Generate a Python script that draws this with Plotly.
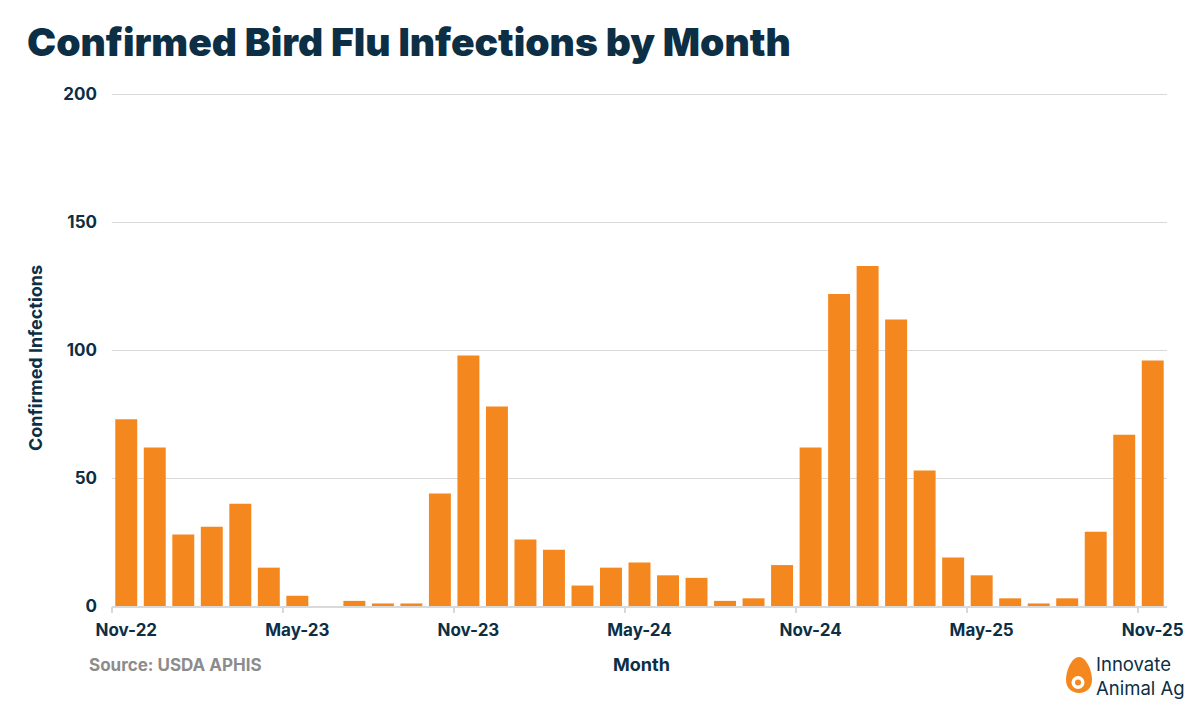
import plotly.graph_objects as go

months = ["Nov-22","Dec-22","Jan-23","Feb-23","Mar-23","Apr-23","May-23","Jun-23","Jul-23","Aug-23","Sep-23","Oct-23",
          "Nov-23","Dec-23","Jan-24","Feb-24","Mar-24","Apr-24","May-24","Jun-24","Jul-24","Aug-24","Sep-24","Oct-24",
          "Nov-24","Dec-24","Jan-25","Feb-25","Mar-25","Apr-25","May-25","Jun-25","Jul-25","Aug-25","Sep-25","Oct-25",
          "Nov-25"]
infections = [73, 62, 28, 31, 40, 15, 4, 0, 2, 1, 1, 44,
              98, 78, 26, 22, 8, 15, 17, 12, 11, 2, 3, 16,
              62, 122, 133, 112, 53, 19, 12, 3, 1, 3, 29, 67,
              96]
tick_labels = ["Nov-22", "May-23", "Nov-23", "May-24", "Nov-24", "May-25", "Nov-25"]
y_ticks = [0, 50, 100, 150, 200]

NAVY = "#0c2f45"
ORANGE = "#f5871f"
GRID = "#d9d9d9"
FONT = "Inter"

idx = list(range(len(months)))
label_pos = [months.index(m) for m in tick_labels]
boundary_pos = [p - 0.5 for p in label_pos]

fig = go.Figure()
fig.add_trace(go.Bar(x=idx, y=infections, marker=dict(color=ORANGE, line=dict(width=0)),
                     hovertext=months, hoverinfo="text+y"))
fig.add_trace(go.Scatter(x=[idx[0]], y=[0], xaxis="x2", mode="markers",
                         marker=dict(opacity=0), showlegend=False, hoverinfo="skip"))

# page body has an 8px margin; work in screenshot pixels and shift
OFF = 8
W, H = 1200, 707
SL, SR, ST, SB = 112, 1167, 93, 606   # plot area in screenshot pixels
L, T = SL - OFF, ST - OFF
R = W - (SR - OFF)
B = H - (SB - OFF)
pw, ph = SR - SL, SB - ST

def px(X):
    return (X - SL) / pw

def py(Y):
    return (SB - Y) / ph

fig.update_layout(
    width=W, height=H,
    margin=dict(l=L, r=R, t=T, b=B),
    paper_bgcolor="white", plot_bgcolor="white",
    bargap=0.23, showlegend=False,
    title=dict(text="Confirmed Bird Flu Infections by Month", x=(27 - OFF) / W, xanchor="left",
               y=1 - (42 - OFF) / H, yanchor="middle",
               font=dict(family=FONT, size=39, color=NAVY, weight=900)),
    xaxis=dict(range=[-0.5, len(months) - 0.5], tickmode="array", tickvals=label_pos,
               ticktext=tick_labels, ticks="", showgrid=False, zeroline=False,
               showline=True, linecolor=GRID, linewidth=1.5,
               tickfont=dict(family=FONT, size=17, color=NAVY, weight=700),
               ticklabelstandoff=8, fixedrange=True),
    xaxis2=dict(range=[-0.5, len(months) - 0.5], overlaying="x", tickmode="array",
                tickvals=boundary_pos, ticks="outside", ticklen=6, tickcolor=GRID, tickwidth=1.5,
                showticklabels=False, showgrid=False, zeroline=False, showline=False,
                anchor="y", side="bottom", fixedrange=True),
    yaxis=dict(range=[0, 200.6], tickmode="array", tickvals=y_ticks, showgrid=True,
               gridcolor=GRID, gridwidth=1, zeroline=False, showline=False, ticks="",
               tickfont=dict(family=FONT, size=17, color=NAVY, weight=700),
               ticklabelstandoff=14, fixedrange=True),
)

annotations = [
    dict(text="Confirmed Infections", x=px(35), y=py(358), textangle=-90,
         font=dict(family=FONT, size=18, color=NAVY, weight=700)),
    dict(text="Month", x=px(641), y=py(664),
         font=dict(family=FONT, size=18, color=NAVY, weight=700)),
    dict(text="Source: USDA APHIS", x=px(87), y=py(665), xanchor="left",
         font=dict(family=FONT, size=17, color="#8c8c8c", weight=700)),
    dict(text="Innovate<br>Animal Ag", x=px(1094), y=py(676), xanchor="left", align="left",
         font=dict(family=FONT, size=18.5, color=NAVY, weight=400)),
]
for a in annotations:
    a.update(xref="paper", yref="paper", showarrow=False, yanchor="middle",
             xanchor=a.get("xanchor", "center"))
fig.update_layout(annotations=annotations)

egg = (f"M {px(1079)},{py(657)} "
       f"C {px(1086)},{py(657)} {px(1092)},{py(670)} {px(1092)},{py(680)} "
       f"C {px(1092)},{py(688)} {px(1086)},{py(693)} {px(1079)},{py(693)} "
       f"C {px(1072)},{py(693)} {px(1066)},{py(688)} {px(1066)},{py(680)} "
       f"C {px(1066)},{py(670)} {px(1072)},{py(657)} {px(1079)},{py(657)} Z")
shapes = [
    dict(type="path", path=egg, fillcolor=ORANGE, line=dict(width=0)),
    dict(type="circle", x0=px(1071.5), x1=px(1084.5), y0=py(676), y1=py(689),
         fillcolor="white", line=dict(width=0)),
    dict(type="circle", x0=px(1075), x1=px(1081), y0=py(679.5), y1=py(685.5),
         fillcolor=ORANGE, line=dict(width=0)),
]
for s in shapes:
    s.update(xref="paper", yref="paper", layer="above")
fig.update_layout(shapes=shapes)

fig.write_html("out.html")
